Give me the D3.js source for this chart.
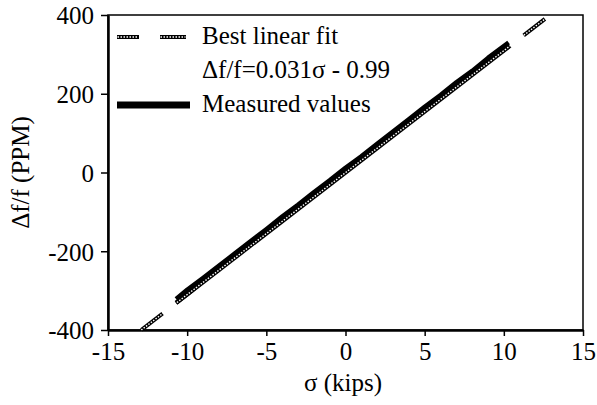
<!DOCTYPE html>
<html>
<head>
<meta charset="utf-8">
<script src="https://cdn.jsdelivr.net/npm/d3@7"></script>
<style>
  body { margin: 0; background: #fff; }
</style>
</head>
<body>
<div id="chart"></div>
<script>
// 축 눈금
const xTicks = [-15, -10, -5, 0, 5, 10, 15]
const yTicks = [-400, -200, 0, 200, 400]

// 최적 직선 (Δf/f = 0.031σ - 0.99) 양 끝점
const fitSigma = [-12.9, 12.6]
const fitPPM = [-400, 390]

// 측정값: 하중 증가 구간
const upSigma = [-10.7, -10, -9, -8, -7, -6, -5, -4, -3, -2, -1, 0, 1, 2, 3, 4, 5, 6, 7, 8, 9, 10, 10.3]
const upPPM = [-331, -309, -276, -246, -213, -183, -151, -121, -90, -58, -28, 3, 33, 65, 96, 127, 158, 189, 220, 251, 282, 312, 320]

// 측정값: 하중 감소 구간
const downSigma = [10.3, 10, 9, 8, 7, 6, 5, 4, 3, 2, 1, 0, -1, -2, -3, -4, -5, -6, -7, -8, -9, -10, -10.7]
const downPPM = [330, 321, 291, 258, 229, 197, 167, 135, 104, 73, 41, 12, -20, -50, -82, -112, -144, -175, -206, -237, -268, -298, -321]

const FONT = '"Liberation Serif", "Times New Roman", Times, serif'

const W = 597, H = 405
const margin = { top: 15, right: 14, bottom: 75, left: 108 }
const width = W - margin.left - margin.right,
      height = H - margin.top - margin.bottom

const svg = d3.select("#chart").append("svg")
    .attr("width", W).attr("height", H)
    .style("font-family", FONT)

const g = svg.append("g").attr("transform", `translate(${margin.left},${margin.top})`)

const xScale = d3.scaleLinear().domain([-15, 15]).range([0, width])
const yScale = d3.scaleLinear().domain([-400, 400]).range([height, 0])

// 테두리 (위, 오른쪽)
g.append("rect").attr("width", width).attr("height", height)
    .attr("fill", "none").attr("stroke", "#000").attr("stroke-width", 1.5)

// 축
const xAxis = d3.axisBottom(xScale).tickValues(xTicks).tickSize(6).tickSizeOuter(0).tickPadding(6)
    .tickFormat(d => String(d))
const yAxis = d3.axisLeft(yScale).tickValues(yTicks).tickSize(7).tickSizeOuter(0).tickPadding(7)
    .tickFormat(d => String(d))

g.append("g").attr("transform", `translate(0,${height})`).call(xAxis)
    .attr("font-family", null)
    .call(a => a.select(".domain").attr("stroke-width", 2.5))
    .call(a => a.selectAll(".tick line").attr("stroke-width", 1.5))
    .call(a => a.selectAll("text").style("font-family", FONT).attr("font-size", 25).attr("dy", "0.72em").attr("fill", "#000"))

g.append("g").call(yAxis)
    .attr("font-family", null)
    .call(a => a.select(".domain").attr("stroke-width", 2.5))
    .call(a => a.selectAll(".tick line").attr("stroke-width", 1.5))
    .call(a => a.selectAll("text").style("font-family", FONT).attr("font-size", 25).attr("dy", "0.35em").attr("fill", "#000"))

// 측정값 선 (굵은 검정)
const line = d3.line().x(d => xScale(d[0])).y(d => yScale(d[1]))
const upData = upSigma.map((s, i) => [s, upPPM[i]])
const downData = downSigma.map((s, i) => [s, downPPM[i]])

g.append("path").datum(upData).attr("d", line)
    .attr("fill", "none").attr("stroke", "#000").attr("stroke-width", 4.5).attr("stroke-linejoin", "round")
g.append("path").datum(downData).attr("d", line)
    .attr("fill", "none").attr("stroke", "#000").attr("stroke-width", 4.5).attr("stroke-linejoin", "round")

// 최적 직선: 측정 구간 바깥에 틈이 있는 점선
const fitData = fitSigma.map((s, i) => [s, fitPPM[i]])
const p0 = [xScale(fitSigma[0]), yScale(fitPPM[0])], p1 = [xScale(fitSigma[1]), yScale(fitPPM[1])]
const L = Math.hypot(p1[0] - p0[0], p1[1] - p0[1])
const frac = s => (s - fitSigma[0]) / (fitSigma[1] - fitSigma[0])
const a = frac(d3.min(upSigma)) * L, b = frac(d3.max(upSigma)) * L, gap = 17
const dash = [a - gap, gap, b - a + 2, gap, L].join(",")

const defs = svg.append("defs")
defs.append("mask").attr("id", "fitMask").attr("maskUnits", "userSpaceOnUse")
    .attr("x", 0).attr("y", 0).attr("width", W).attr("height", H)
    .append("path").datum(fitData).attr("d", line)
    .attr("transform", `translate(${margin.left},${margin.top})`)
    .attr("fill", "none").attr("stroke", "#fff").attr("stroke-width", 6).attr("stroke-dasharray", dash)

const fitG = svg.append("g").attr("mask", "url(#fitMask)")
    .append("g").attr("transform", `translate(${margin.left},${margin.top})`)
fitG.append("path").datum(fitData).attr("d", line)
    .attr("fill", "none").attr("stroke", "#000").attr("stroke-width", 4)
fitG.append("path").datum(fitData).attr("d", line)
    .attr("fill", "none").attr("stroke", "#fff").attr("stroke-width", 1.4).attr("stroke-dasharray", "1.5,1.5")

// 축 제목
svg.append("text").attr("x", 343).attr("y", 391).attr("text-anchor", "middle")
    .attr("font-size", 25).text("σ (kips)")
svg.append("text").attr("transform", `translate(29,${margin.top + height / 2}) rotate(-90)`)
    .attr("text-anchor", "middle").attr("font-size", 25).text("Δf/f (PPM)")

// 범례
const leg = svg.append("g")
;[[117, 139], [160, 186]].forEach(([x1, x2]) => {
    leg.append("line").attr("x1", x1).attr("x2", x2).attr("y1", 37).attr("y2", 37)
        .attr("stroke", "#000").attr("stroke-width", 4)
    leg.append("line").attr("x1", x1 + 0.5).attr("x2", x2 - 0.5).attr("y1", 37).attr("y2", 37)
        .attr("stroke", "#fff").attr("stroke-width", 1.4).attr("stroke-dasharray", "1.5,1.5")
})
leg.append("line").attr("x1", 117).attr("x2", 190).attr("y1", 105).attr("y2", 105)
    .attr("stroke", "#000").attr("stroke-width", 7)

leg.append("text").attr("x", 202).attr("y", 44).attr("font-size", 25).text("Best linear fit")
leg.append("text").attr("x", 202).attr("y", 78).attr("font-size", 25).text("Δf/f=0.031σ - 0.99")
leg.append("text").attr("x", 202).attr("y", 112).attr("font-size", 25).text("Measured values")
</script>
</body>
</html>
